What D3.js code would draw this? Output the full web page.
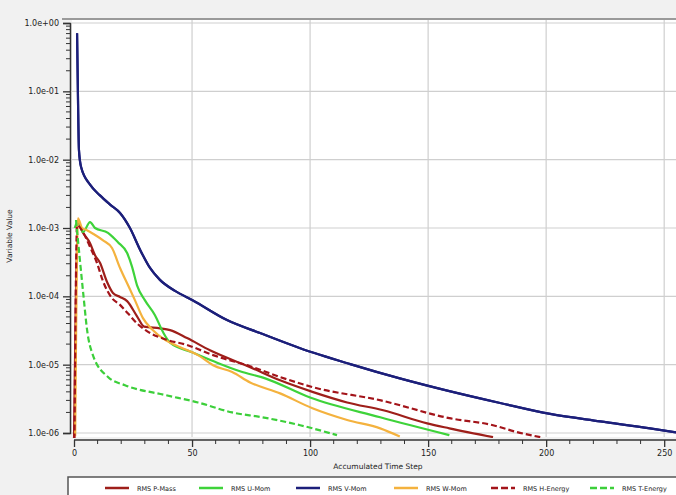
<!DOCTYPE html>
<html>
<head>
<meta charset="utf-8">
<script src="https://cdn.jsdelivr.net/npm/d3@7"></script>
<style>
  html, body { margin: 0; padding: 0; background: #f1f1f1; }
  svg { display: block; }
  text { font-family: "DejaVu Sans", Verdana, sans-serif; fill: #222; }
</style>
</head>
<body>
<svg id="chart" width="676" height="495"></svg>
<script>
// ---- Data ----
const seriesNames = ["RMS P-Mass", "RMS U-Mom", "RMS V-Mom", "RMS W-Mom", "RMS H-Energy", "RMS T-Energy"];

const pMassSteps  = [0, 1.7, 3.8, 6.8, 8.9, 11, 14, 16.5, 19.5, 22.5, 26.7, 29.7, 36.4, 40.7, 47.9, 57.6, 74.6, 87.3, 101, 115.7, 131, 149.6, 159, 177.5];
const pMassValues = [8e-7, 1.18e-3, 8.5e-4, 6.0e-4, 4.0e-4, 3.1e-4, 1.62e-4, 1.12e-4, 9.8e-5, 8.5e-5, 5.1e-5, 3.6e-5, 3.4e-5, 3.2e-5, 2.45e-5, 1.62e-5, 9.2e-6, 5.9e-6, 4.0e-6, 2.8e-6, 2.15e-6, 1.38e-6, 1.17e-6, 8.7e-7];

const uMomSteps  = [0.3, 1.7, 3.8, 6.8, 8.9, 14.4, 18.6, 22.5, 24.6, 26.7, 30, 34.3, 37.7, 40.7, 50, 59.7, 70.3, 81, 100, 129.7, 159];
const uMomValues = [1.0e-3, 1.26e-3, 8.7e-4, 1.22e-3, 1.0e-3, 8.5e-4, 6.2e-4, 4.3e-4, 2.7e-4, 1.45e-4, 8.8e-5, 5.3e-5, 3.0e-5, 2.1e-5, 1.52e-5, 1.1e-5, 8.0e-6, 6.3e-6, 3.3e-6, 1.7e-6, 9.3e-7];

const vMomSteps  = [1.3, 1.7, 2.1, 3.0, 6.8, 11, 15.3, 19.5, 23.7, 28, 32.2, 36.4, 42.8, 50.4, 64.8, 78.8, 95.8, 117, 138, 159, 180.5, 201.7, 222.9, 244, 255];
const vMomValues = [0.71, 0.074, 1.38e-2, 7.8e-3, 4.3e-3, 3.0e-3, 2.2e-3, 1.66e-3, 1.0e-3, 4.8e-4, 2.6e-4, 1.74e-4, 1.2e-4, 8.7e-5, 4.5e-5, 2.9e-5, 1.74e-5, 1.02e-5, 6.3e-6, 4.1e-6, 2.75e-6, 1.9e-6, 1.48e-6, 1.17e-6, 1.02e-6];

const wMomSteps  = [0.5, 1.7, 3.4, 5.5, 8.9, 12.3, 16.1, 19.5, 22.9, 25.8, 29.2, 33, 38.6, 45, 52.5, 58.9, 67, 74.6, 87.3, 101, 115.7, 129.7, 138];
const wMomValues = [9e-7, 1.39e-3, 1.0e-3, 9.3e-4, 7.9e-4, 6.6e-4, 5.1e-4, 2.6e-4, 1.45e-4, 8.8e-5, 4.8e-5, 3.3e-5, 2.3e-5, 1.8e-5, 1.38e-5, 9.8e-6, 7.8e-6, 5.5e-6, 3.8e-6, 2.3e-6, 1.55e-6, 1.17e-6, 8.9e-7];

const hEnergySteps  = [0.2, 1.3, 3.8, 6.8, 9.7, 12.3, 16.1, 19.5, 22.9, 27.1, 30.9, 38.6, 47.9, 58.9, 74.6, 87.3, 101, 130, 159, 177.5, 187.7, 197.5];
const hEnergyValues = [8e-7, 1.1e-3, 8.7e-4, 5.3e-4, 3.1e-4, 1.66e-4, 9.4e-5, 7.5e-5, 5.6e-5, 3.9e-5, 3.1e-5, 2.35e-5, 1.94e-5, 1.38e-5, 9.5e-6, 6.6e-6, 4.7e-6, 3.0e-6, 1.65e-6, 1.3e-6, 1.03e-6, 8.7e-7];

const tEnergySteps  = [0.85, 2.5, 4.2, 5.5, 8, 14.4, 21.6, 38.6, 52.5, 67, 79.7, 95.8, 111.4];
const tEnergyValues = [1.31e-3, 3.4e-4, 8.8e-5, 3.3e-5, 1.38e-5, 6.6e-6, 5.0e-6, 3.6e-6, 2.8e-6, 2.0e-6, 1.7e-6, 1.3e-6, 9.3e-7];

const xTickValues = [0, 50, 100, 150, 200, 250];
const yTickValues = [1, 1e-1, 1e-2, 1e-3, 1e-4, 1e-5, 1e-6];
const yTickLabels = ["1.0e+00", "1.0e-01", "1.0e-02", "1.0e-03", "1.0e-04", "1.0e-05", "1.0e-06"];
const xAxisTitle = "Accumulated Time Step";
const yAxisTitle = "Variable Value";

// ---- Styling per series ----
const seriesStyle = [
  { color: "#9e1f1a", dash: null },
  { color: "#3ed33a", dash: null },
  { color: "#1c1f7a", dash: null },
  { color: "#f4b23e", dash: null },
  { color: "#a3141a", dash: "6,3" },
  { color: "#3ccf3a", dash: "6,3" }
];
const seriesData = [
  [pMassSteps, pMassValues],
  [uMomSteps, uMomValues],
  [vMomSteps, vMomValues],
  [wMomSteps, wMomValues],
  [hEnergySteps, hEnergyValues],
  [tEnergySteps, tEnergyValues]
];

// ---- Layout ----
const svg = d3.select("#chart");
const plotLeft = 72, plotRight = 676, plotTop = 20, plotBottom = 437;
const x = d3.scaleLinear().domain([0, 255]).range([74, 676]);
const y = d3.scaleLog().domain([1e-6, 1]).range([433, 23]);

// plot background
svg.append("rect").attr("x", plotLeft).attr("y", plotTop)
  .attr("width", plotRight - plotLeft).attr("height", plotBottom - plotTop)
  .attr("fill", "#ffffff");

// grid
const grid = svg.append("g");
grid.selectAll("line.h").data(yTickValues).join("line")
  .attr("x1", plotLeft).attr("x2", plotRight)
  .attr("y1", d => y(d)).attr("y2", d => y(d))
  .attr("stroke", "#cfcfcf").attr("stroke-width", 1.2);
grid.selectAll("line.v").data(xTickValues.filter(d => d > 0)).join("line")
  .attr("x1", d => x(d)).attr("x2", d => x(d))
  .attr("y1", plotTop).attr("y2", plotBottom)
  .attr("stroke", "#cfcfcf").attr("stroke-width", 1.2);

// top frame line
svg.append("line").attr("x1", 62).attr("x2", 676).attr("y1", 19).attr("y2", 19)
  .attr("stroke", "#9a9a9a").attr("stroke-width", 2);

// clip
svg.append("clipPath").attr("id", "clip").append("rect")
  .attr("x", plotLeft).attr("y", plotTop)
  .attr("width", plotRight - plotLeft).attr("height", plotBottom - plotTop + 1);

// series lines
const line = d3.line().x(d => x(d[0])).y(d => y(d[1])).curve(d3.curveMonotoneX);
const linesG = svg.append("g").attr("clip-path", "url(#clip)");
seriesData.forEach((s, i) => {
  const pts = s[0].map((t, k) => [t, s[1][k]]);
  linesG.append("path").datum(pts)
    .attr("d", line)
    .attr("fill", "none")
    .attr("stroke", seriesStyle[i].color)
    .attr("stroke-width", 2.2)
    .attr("stroke-dasharray", seriesStyle[i].dash);
});
// redraw V-Mom on top
linesG.append("path").datum(vMomSteps.map((t, k) => [t, vMomValues[k]]))
  .attr("d", line).attr("fill", "none").attr("stroke", seriesStyle[2].color).attr("stroke-width", 2.2);

// y axis
const yAxis = d3.axisLeft(y)
  .tickValues(yTickValues)
  .tickFormat((d, i) => yTickLabels[i])
  .tickSize(7).tickPadding(4);
const yAxisG = svg.append("g").attr("transform", "translate(70,0)").call(yAxis);
yAxisG.select(".domain").attr("stroke", "#333").attr("stroke-width", 1.5);
yAxisG.selectAll(".tick line").attr("stroke", "#333").attr("stroke-width", 1.3);
yAxisG.selectAll("text").style("font-size", "8px").attr("fill", "#222");
// minor y ticks
const minorY = [];
for (let e = -6; e < 0; e++) for (let m = 2; m <= 9; m++) minorY.push(m * Math.pow(10, e));
svg.append("g").selectAll("line").data(minorY).join("line")
  .attr("x1", 66).attr("x2", 70)
  .attr("y1", d => y(d)).attr("y2", d => y(d))
  .attr("stroke", "#333").attr("stroke-width", 1);

// x axis
const xAxis = d3.axisBottom(x).tickValues(xTickValues).tickFormat(d3.format("d")).tickSize(7).tickPadding(3);
const xAxisG = svg.append("g").attr("transform", "translate(0,440)").call(xAxis);
xAxisG.select(".domain").attr("d", `M${x(0)},0H676`).attr("stroke", "#333").attr("stroke-width", 1.5);
xAxisG.selectAll(".tick line").attr("stroke", "#333").attr("stroke-width", 1.3);
xAxisG.selectAll("text").style("font-size", "8px").attr("fill", "#222");
const minorX = d3.range(10, 256, 10).filter(d => d % 50 !== 0);
svg.append("g").selectAll("line").data(minorX).join("line")
  .attr("x1", d => x(d)).attr("x2", d => x(d))
  .attr("y1", 440).attr("y2", 444)
  .attr("stroke", "#333").attr("stroke-width", 1);

// axis titles
svg.append("text").attr("x", 378).attr("y", 469).attr("text-anchor", "middle")
  .style("font-size", "7.5px").text(xAxisTitle);
svg.append("text").attr("transform", "translate(12,236) rotate(-90)").attr("text-anchor", "middle")
  .style("font-size", "7.5px").text(yAxisTitle);

// legend
svg.append("rect").attr("x", 68).attr("y", 477).attr("width", 620).attr("height", 30)
  .attr("fill", "#ffffff").attr("stroke", "#555").attr("stroke-width", 1.5);
const legendX = [105, 199, 296, 394, 491, 590];
const legend = svg.append("g");
seriesNames.forEach((name, i) => {
  legend.append("line")
    .attr("x1", legendX[i]).attr("x2", legendX[i] + 24)
    .attr("y1", 488).attr("y2", 488)
    .attr("stroke", seriesStyle[i].color).attr("stroke-width", 2.5)
    .attr("stroke-dasharray", seriesStyle[i].dash ? "7,3" : null);
  legend.append("text").attr("x", legendX[i] + 32).attr("y", 490.5)
    .style("font-size", "6.5px").text(name);
});
</script>
</body>
</html>
